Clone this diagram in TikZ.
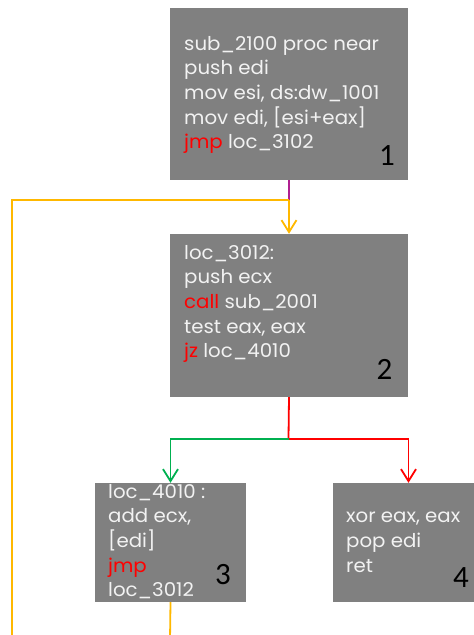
\documentclass[tikz,border=0pt]{standalone}
\usepackage{fontspec}
\setmainfont{Poppins}[FakeStretch=1.04]
\newfontfamily\numfont{Carlito}
\usetikzlibrary{arrows.meta,positioning,calc}
\definecolor{boxgray}{RGB}{128,128,128}
\definecolor{loopgold}{RGB}{255,184,0}
\definecolor{entrypurple}{RGB}{176,32,144}
\definecolor{truegreen}{RGB}{0,176,80}
\definecolor{jmpred}{RGB}{255,0,0}

\begin{document}
\begin{tikzpicture}[x=1pt, y=-1pt,
    block/.style={fill=boxgray, draw=none, inner sep=0pt},
    code/.style={anchor=north west, inner sep=0pt, align=left, text=white!95!black,
                 font=\fontsize{19}{24.6}\selectfont},
    num/.style={inner sep=0pt, font=\numfont\fontsize{31}{31}\selectfont},
    flow/.style={line width=1.8pt},
    arrow/.style={flow, -{Straight Barb[length=12pt, width=15pt, line width=1.8pt]}}
]
\clip (0,0) rectangle (474,635);

% Blocks
\node[block, minimum width=238pt, minimum height=172pt] (b1) at (289, 94) {};
\node[block, minimum width=238pt, minimum height=163pt] (b2) at (289, 315.5) {};
\node[block, minimum width=151pt, minimum height=119pt] (b3) at (170.5, 542.5) {};
\node[block, minimum width=151pt, minimum height=119pt] (b4) at (408.5, 542.5) {};

% Code
\node[code] (c1) at (184, 36) {sub\_2100 proc near\\push edi\\mov esi, ds:dw\_1001\\mov edi, [esi+eax]\\\textcolor{jmpred}{jmp} loc\_3102};
\node[code] (c2) at (184, 245) {loc\_3012:\\push ecx\\\textcolor{jmpred}{call} sub\_2001\\test eax, eax\\\textcolor{jmpred}{jz} loc\_4010};
\node[code] (c3) at (108, 484) {loc\_4010 :\\add ecx,\\{[edi]}\\\textcolor{jmpred}{jmp}\\loc\_3012};
\node[code] (c4) at (346, 512) {xor eax, eax\\pop edi\\ret};

% Numbers
\node[num] (n1) at (387, 156) {1};
\node[num] (n2) at (384.5, 369.5) {2};
\node[num] (n3) at (223, 575) {3};
\node[num] (n4) at (461, 578) {4};

% Junctions
\coordinate (j1) at (289, 200);
\coordinate (j2) at (288.5, 439);
\coordinate (out3) at (170, 640);
\coordinate (back) at (12, 640);

% Connectors
\draw[flow, entrypurple] (b1.south) -- (j1);
\draw[arrow, loopgold] (j1) -- (b2.north);
\draw[flow, loopgold] (b3.south) -- (out3);
\draw[flow, loopgold] (back) |- (j1);
\draw[flow, jmpred] (b2.south) -- (j2);
\draw[arrow, truegreen] (j2) -| (b3.north);
\draw[arrow, jmpred] (j2) -| (b4.north);

\end{tikzpicture}
\end{document}
